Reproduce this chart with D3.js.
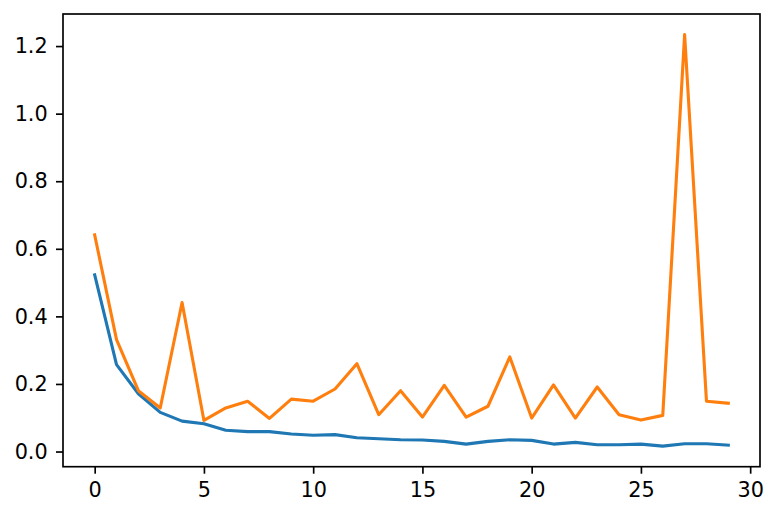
<!DOCTYPE html>
<meta charset="utf-8">
<style>
    body { margin: 0; background: #fff; }
    text { font-family: "DejaVu Sans", sans-serif; font-size: 20.8px; fill: #000; }
    .line { fill: none; stroke-width: 3.1px; stroke-linejoin: round; stroke-linecap: square; }
</style>
<svg width="778" height="517"></svg>
<script src="https://d3js.org/d3.v7.min.js"></script>
<script>

    var epochs = d3.range(30);
    var trainLoss = [0.523, 0.257, 0.171, 0.116, 0.090, 0.082, 0.063, 0.059, 0.059, 0.052,
                     0.048, 0.050, 0.041, 0.038, 0.035, 0.034, 0.030, 0.022, 0.030, 0.035,
                     0.033, 0.022, 0.027, 0.020, 0.020, 0.022, 0.016, 0.023, 0.023, 0.019];
    var valLoss = [0.641, 0.331, 0.180, 0.129, 0.441, 0.092, 0.129, 0.149, 0.098, 0.155,
                   0.149, 0.185, 0.260, 0.109, 0.180, 0.102, 0.196, 0.102, 0.134, 0.280,
                   0.099, 0.197, 0.099, 0.191, 0.109, 0.093, 0.107, 1.234, 0.149, 0.143];
    var xTicks = [0, 5, 10, 15, 20, 25, 30];
    var yTicks = [0.0, 0.2, 0.4, 0.6, 0.8, 1.0, 1.2];

    var svg = d3.select("svg"),
        plotL = 63, plotR = 760, plotT = 14, plotB = 466.7,
        tickLen = 7, pad = 7.3;

    // matplotlib style 5% margins
    var all = trainLoss.concat(valLoss),
        yMin = d3.min(all), yMax = d3.max(all),
        ym = (yMax - yMin) * 0.05, xm = (epochs.length - 1) * 0.05;

    var x = d3.scaleLinear().domain([-xm, epochs.length - 1 + xm]).range([plotL, plotR]);
    var y = d3.scaleLinear().domain([yMin - ym, yMax + ym]).range([plotB, plotT]);

    var line = d3.line()
        .x(function(d, i) { return x(epochs[i]); })
        .y(function(d) { return y(d); });

    svg.append("path").datum(trainLoss).attr("class", "line")
        .attr("stroke", "#1f77b4").attr("d", line);
    svg.append("path").datum(valLoss).attr("class", "line")
        .attr("stroke", "#ff7f0e").attr("d", line);

    var xAxis = svg.append("g")
        .attr("transform", "translate(0," + plotB + ")")
        .call(d3.axisBottom(x).tickValues(xTicks).tickFormat(d3.format("d"))
            .tickSize(tickLen).tickPadding(pad + 1.5));
    var yAxis = svg.append("g")
        .attr("transform", "translate(" + plotL + ",0)")
        .call(d3.axisLeft(y).tickValues(yTicks).tickFormat(d3.format(".1f"))
            .tickSize(tickLen).tickPadding(pad + 1));

    [xAxis, yAxis].forEach(function(a) {
        a.attr("font-size", null).attr("font-family", null);
        a.select(".domain").remove();
        a.selectAll("line").attr("stroke", "#000").attr("stroke-width", 1.67);
        a.selectAll("text").attr("fill", "#000");
    });

    svg.append("rect")
        .attr("x", plotL).attr("y", plotT)
        .attr("width", plotR - plotL).attr("height", plotB - plotT)
        .attr("fill", "none").attr("stroke", "#000").attr("stroke-width", 1.67);

</script>
